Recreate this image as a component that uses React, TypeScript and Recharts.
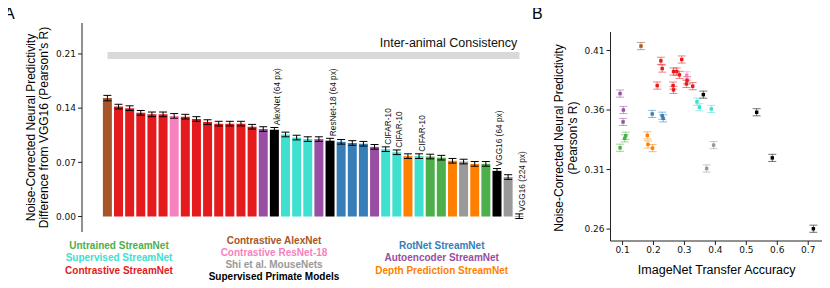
import { Bar, Cell, ComposedChart, ErrorBar, LabelList, Line, Scatter, ScatterChart, XAxis, YAxis } from "recharts";

// group colours (shared by both panels)
const groupColor: Record<string, string> = {
  UT: "#4daf4a", // untrained StreamNet
  SS: "#40e0d0", // supervised StreamNet
  CS: "#e41a1c", // contrastive StreamNet
  CA: "#a65628", // contrastive AlexNet
  CR: "#f781bf", // contrastive ResNet-18
  MN: "#999999", // Shi et al. MouseNets
  SP: "#000000", // supervised primate models
  RN: "#377eb8", // RotNet StreamNet
  AE: "#984ea3", // autoencoder StreamNet
  DP: "#ff7f00", // depth prediction StreamNet
};

// ---- panel A: bars, sorted ----
const barGroup = [
  "CA", "CS", "CS", "CS", "CS", "CS", "CR", "CS", "CS", "CS", "CS", "CS", "CS", "CS", "AE", "SP", "SS", "SS", "SS",
  "AE", "SP", "RN", "RN", "RN", "AE", "SS", "SS", "DP", "SS", "UT", "UT", "DP", "MN", "DP", "UT", "SP", "MN", "SP",
];
const barValue = [
  0.153, 0.142, 0.14, 0.134, 0.132, 0.132, 0.13, 0.129, 0.126, 0.122, 0.12, 0.12, 0.12, 0.116, 0.113, 0.112, 0.106,
  0.102, 0.1, 0.1, 0.098, 0.0965, 0.095, 0.094, 0.09, 0.087, 0.083, 0.078, 0.078, 0.0775, 0.076, 0.072, 0.071, 0.068,
  0.068, 0.059, 0.051, 0.0004,
];
const barError = [
  0.0035, 0.003, 0.003, 0.003, 0.003, 0.003, 0.003, 0.003, 0.003, 0.003, 0.003, 0.003, 0.003, 0.003, 0.003, 0.003,
  0.003, 0.003, 0.003, 0.003, 0.003, 0.003, 0.003, 0.003, 0.003, 0.003, 0.003, 0.003, 0.003, 0.003, 0.003, 0.003,
  0.003, 0.003, 0.003, 0.003, 0.003, 0.003,
];
const barNote = [
  "", "", "", "", "", "", "", "", "", "", "", "", "", "", "", "AlexNet (64 px)", "", "", "", "", "ResNet-18 (64 px)",
  "", "", "", "", "CIFAR-10", "CIFAR-10", "", "CIFAR-10", "", "", "", "", "", "", "VGG16 (64 px)", "", "VGG16 (224 px)",
];
const interAnimal = 0.208;
const barTicks = [0, 0.07, 0.14, 0.21];

// ---- panel B: scatter ----
const pointGroup = [
  "CA", "CS", "CS", "CS", "CS", "CS", "CS", "CS", "CS", "CS", "CS", "CS", "CS", "CR", "AE", "AE", "AE", "UT", "UT",
  "UT", "RN", "RN", "RN", "DP", "DP", "DP", "SS", "SS", "SS", "SP", "SP", "SP", "SP", "MN", "MN",
];
const pointAcc = [
  0.1595, 0.2238, 0.228, 0.2119, 0.2646, 0.2752, 0.2839, 0.2633, 0.2646, 0.2913, 0.3064, 0.3267, 0.3084, 0.3074,
  0.092, 0.1026, 0.1016, 0.092, 0.107, 0.11, 0.1958, 0.228, 0.2312, 0.18, 0.182, 0.197, 0.3405, 0.3482, 0.3868,
  0.3611, 0.5334, 0.5839, 0.7167, 0.3942, 0.3717,
];
const pointPred = [
  0.4137, 0.4013, 0.3948, 0.3805, 0.3923, 0.3923, 0.3895, 0.3805, 0.3769, 0.4024, 0.3819, 0.38, 0.3849, 0.3891,
  0.3738, 0.36, 0.35, 0.3283, 0.3362, 0.3384, 0.3567, 0.3552, 0.353, 0.3387, 0.3311, 0.328, 0.367, 0.3623, 0.3609,
  0.3729, 0.3581, 0.3198, 0.2603, 0.3305, 0.3109,
];
const pointErr = [
  0.003, 0.003, 0.003, 0.003, 0.003, 0.003, 0.003, 0.003, 0.003, 0.003, 0.003, 0.003, 0.003, 0.003, 0.003, 0.003,
  0.003, 0.003, 0.003, 0.003, 0.003, 0.003, 0.003, 0.003, 0.003, 0.003, 0.003, 0.003, 0.003, 0.003, 0.003, 0.003,
  0.003, 0.003, 0.003,
];
const accTicks = [0.1, 0.2, 0.3, 0.4, 0.5, 0.6, 0.7];
const predTicks = [0.26, 0.31, 0.36, 0.41];
const scatterOrder = ["UT", "AE", "RN", "DP", "CA", "CS", "CR", "SS", "MN", "SP"];

const legendCols = [
  { x: 119, y: 245.7, items: [["Untrained StreamNet", "UT"], ["Supervised StreamNet", "SS"], ["Contrastive StreamNet", "CS"]] },
  {
    x: 274,
    y: 240,
    items: [["Contrastive AlexNet", "CA"], ["Contrastive ResNet-18", "CR"], ["Shi et al. MouseNets", "MN"], ["Supervised Primate Models", "SP"]],
  },
  { x: 441.7, y: 245.7, items: [["RotNet StreamNet", "RN"], ["Autoencoder StreamNet", "AE"], ["Depth Prediction StreamNet", "DP"]] },
];

const barRows = barValue.map((v, i) => ({
  id: String(i + 1),
  value: v,
  err: barError[i],
  note: barNote[i],
  band: interAnimal,
}));

const SANS = "'Liberation Sans', Arial, sans-serif";
const TICK = "'DejaVu Sans', sans-serif";
const tickStyle = { fontSize: 9, fontFamily: TICK, fill: "#111" };

function NoteLabel(props: any) {
  const note = props.value ?? barNote[props.index];
  if (!note) return null;
  const vb = props.viewBox ?? props;
  const x = vb.x + vb.width / 2 + 5.5;
  const y = vb.y - 4.5;
  return (
    <text x={x} y={y} transform={`rotate(-90 ${x} ${y})`} fontSize={8.3} fontFamily={SANS} fill="#111">
      {note}
    </text>
  );
}

const Dot = (props: any) => <rect x={props.cx - 1.7} y={props.cy - 1.7} width={3.4} height={3.4} fill={props.fill} />;

const letterStyle = {
  position: "absolute" as const,
  fontFamily: SANS,
  fontSize: 16,
  lineHeight: "16px",
  color: "#000",
  zIndex: 20,
};

export default function App() {
  return (
    <div style={{ position: "relative", width: 830, height: 288, marginLeft: -8, marginTop: -8, background: "#fff" }}>
      <div style={{ position: "absolute", left: 0, top: 0 }}>
        <ComposedChart width={540} height={288} data={barRows} margin={{ top: 23, right: 10, bottom: 56, left: 0 }} barCategoryGap="8%">
          <XAxis dataKey="id" hide padding={{ left: 20, right: 5 }} />
          <YAxis
            width={82}
            domain={[-0.02, 0.25]}
            ticks={barTicks}
            allowDataOverflow
            tickFormatter={(v) => Number(v).toFixed(2)}
            tick={tickStyle}
            tickSize={4}
            tickMargin={2}
            stroke="#222"
          />
          <Line dataKey="band" stroke="#d9d9d9" strokeWidth={7} dot={false} activeDot={false} isAnimationActive={false} />
          <Bar dataKey="value" isAnimationActive={false}>
            {barRows.map((r, i) => (
              <Cell key={r.id} fill={groupColor[barGroup[i]]} />
            ))}
            <ErrorBar dataKey="err" width={4} stroke="#000" strokeWidth={1} />
            <LabelList dataKey="note" content={NoteLabel} />
          </Bar>
        </ComposedChart>
      </div>

      <div style={{ position: "absolute", left: 540, top: 0 }}>
        <ScatterChart width={290} height={288} margin={{ top: 32, right: 6, bottom: 17, left: 0 }}>
          <XAxis
            type="number"
            dataKey="x"
            domain={[0.061, 0.751]}
            ticks={accTicks}
            allowDataOverflow
            height={30}
            tick={tickStyle}
            tickSize={4}
            tickMargin={2}
            stroke="#222"
          />
          <YAxis
            type="number"
            dataKey="y"
            width={70.5}
            domain={[0.25, 0.4255]}
            ticks={predTicks}
            allowDataOverflow
            tickFormatter={(v) => Number(v).toFixed(2)}
            tick={tickStyle}
            tickSize={4}
            tickMargin={2}
            stroke="#222"
          />
          {scatterOrder.map((g) => {
            const pts = pointGroup
              .map((pg, i) => ({ g: pg, x: pointAcc[i], y: pointPred[i], err: pointErr[i] }))
              .filter((p) => p.g === g);
            return (
              <Scatter key={g} data={pts} fill={groupColor[g]} shape={Dot} isAnimationActive={false}>
                <ErrorBar dataKey="err" direction="y" width={4} stroke={groupColor[g]} strokeOpacity={0.55} strokeWidth={1} />
              </Scatter>
            );
          })}
        </ScatterChart>
      </div>

      <svg width={830} height={288} style={{ position: "absolute", left: 0, top: 0, pointerEvents: "none", zIndex: 10 }}>
        <text x={517.3} y={46.5} fontSize={12.5} fontFamily={SANS} textAnchor="end" fill="#111">
          Inter-animal Consistency
        </text>
        <text x={30.5} y={127.5} fontSize={12} fontFamily={SANS} textAnchor="middle" dominantBaseline="central" transform="rotate(-90 30.5 127.5)">
          Noise-Corrected Neural Predictivity
        </text>
        <text x={43.5} y={127.5} fontSize={12} fontFamily={SANS} textAnchor="middle" dominantBaseline="central" transform="rotate(-90 43.5 127.5)">
          Difference from VGG16 (Pearson's R)
        </text>
        <text x={559} y={138} fontSize={12} fontFamily={SANS} textAnchor="middle" dominantBaseline="central" transform="rotate(-90 559 138)">
          Noise-Corrected Neural Predictivity
        </text>
        <text x={573.3} y={138} fontSize={12} fontFamily={SANS} textAnchor="middle" dominantBaseline="central" transform="rotate(-90 573.3 138)">
          (Pearson's R)
        </text>
        <text x={716.7} y={270} fontSize={12.5} fontFamily={SANS} textAnchor="middle" dominantBaseline="central">
          ImageNet Transfer Accuracy
        </text>
        {legendCols.map((col) =>
          col.items.map(([label, g], j) => (
            <text
              key={label}
              x={col.x}
              y={col.y + j * 12.2}
              fontSize={10}
              fontWeight="bold"
              fontFamily={SANS}
              textAnchor="middle"
              dominantBaseline="central"
              fill={groupColor[g]}
            >
              {label}
            </text>
          ))
        )}
      </svg>
      <div style={{ ...letterStyle, left: 4, top: 6 }}>A</div>
      <div style={{ ...letterStyle, left: 532, top: 5.5 }}>B</div>
    </div>
  );
}
